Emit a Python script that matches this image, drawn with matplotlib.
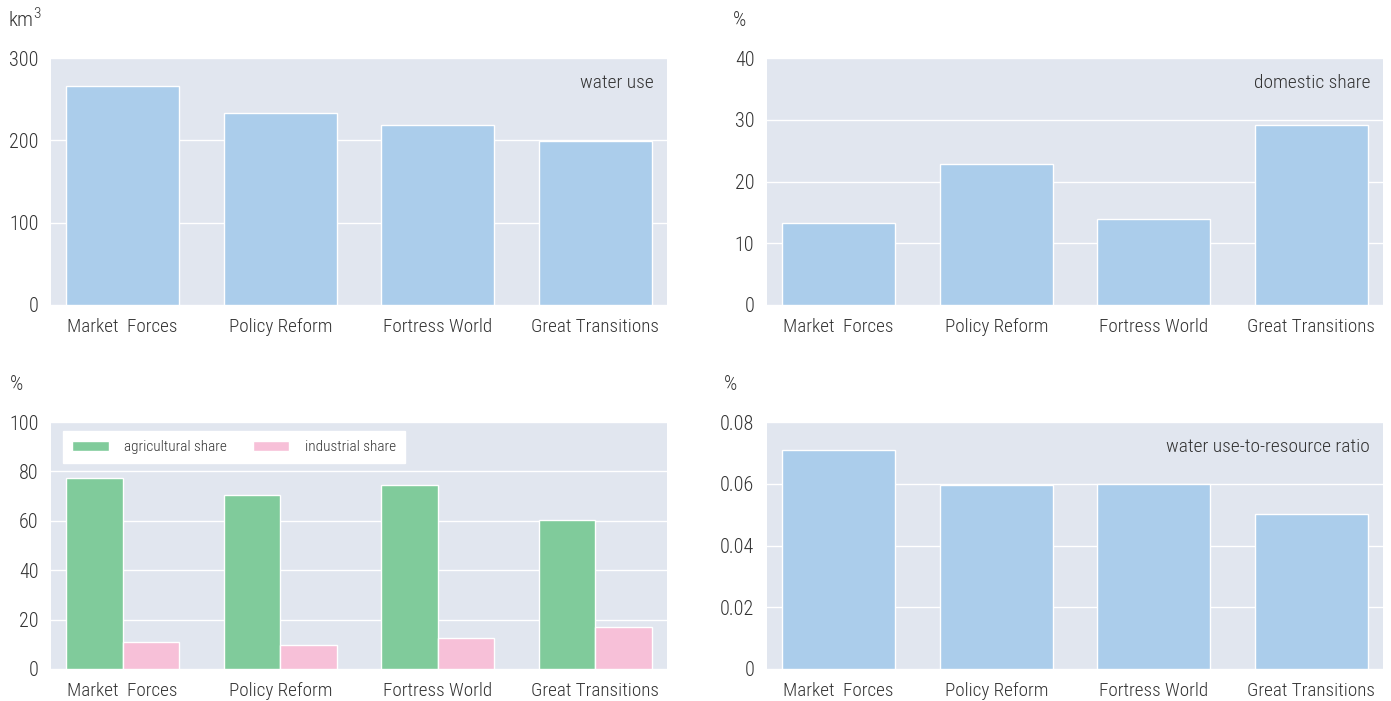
import matplotlib
matplotlib.use("Agg")
import matplotlib.pyplot as plt
import numpy as np
from matplotlib.font_manager import fontManager

names = {f.name for f in fontManager.ttflist}
fam = [f for f in ["Liberation Sans Narrow", "Roboto Condensed", "Roboto", "DejaVu Sans"] if f in names]
plt.rcParams['font.family'] = fam
plt.rcParams['font.weight'] = 'light'

categories = ["Market  Forces", "Policy Reform", "Fortress World", "Great Transitions"]
water_use = [266, 233, 219, 199]
domestic_share = [13.3, 22.8, 13.9, 29.2]
agricultural_share = [77.3, 70.4, 74.5, 60.3]
industrial_share = [10.9, 9.7, 12.6, 17.0]
use_to_resource = [0.0709, 0.0596, 0.0599, 0.0502]

BG = "#e1e6ef"
BLUE = "#abcdeb"
GREEN = "#80cb9b"
PINK = "#f7c0d8"
TXT = "#333333"

fig = plt.figure(figsize=(13.91, 7.01), dpi=100)
W, H = 1391, 701

def make_ax(x0, y0, x1, y1):
    ax = fig.add_axes([x0 / W, 1 - y1 / H, (x1 - x0) / W, (y1 - y0) / H])
    ax.set_facecolor(BG)
    for s in ax.spines.values():
        s.set_visible(False)
    ax.set_axisbelow(True)
    ax.yaxis.grid(True, color="white", linewidth=1)
    ax.tick_params(axis="y", length=0, labelsize=14.5, colors=TXT, pad=9)
    ax.tick_params(axis="x", length=0, labelsize=13.8, colors=TXT, pad=9)
    ax.set_xlim(-0.455, 3.455)
    x = np.arange(len(categories))
    ax.set_xticks(x)
    ax.set_xticklabels(categories)
    return ax, x

TITLE_KW = dict(ha="right", va="center", fontsize=14, color=TXT)

def unit(xp, yp, s):
    fig.text(xp / W, 1 - yp / H, s, fontsize=15, color=TXT, va="center", ha="left")

# top-left
ax, x = make_ax(51, 58, 667, 305)
ax.bar(x, water_use, width=0.72, color=BLUE, edgecolor="white", linewidth=1)
ax.set_ylim(0, 300)
ax.set_yticks([0, 100, 200, 300])
ax.text(0.979, 0.9, "water use", transform=ax.transAxes, **TITLE_KW)
unit(8, 20, "km")
fig.text(33 / W, 1 - 14 / H, "3", fontsize=11, color=TXT, va="center", ha="left")

# top-right
ax, x = make_ax(767, 58, 1383, 305)
ax.bar(x, domestic_share, width=0.72, color=BLUE, edgecolor="white", linewidth=1)
ax.set_ylim(0, 40)
ax.set_yticks([0, 10, 20, 30, 40])
ax.text(0.979, 0.9, "domestic share", transform=ax.transAxes, **TITLE_KW)
unit(733, 20, "%")

# bottom-left
ax, x = make_ax(51, 422, 667, 669)
ax.bar(x - 0.18, agricultural_share, width=0.36, color=GREEN, edgecolor="white", linewidth=1, label="agricultural share")
ax.bar(x + 0.18, industrial_share, width=0.36, color=PINK, edgecolor="white", linewidth=1, label="industrial share")
ax.set_ylim(0, 100)
ax.set_yticks([0, 20, 40, 60, 80, 100])
leg = ax.legend(loc="upper left", bbox_to_anchor=(0.019, 0.964), ncol=2, frameon=True, fancybox=False,
                fontsize=11, handlelength=2.4, handleheight=0.65, columnspacing=1.7, borderpad=0.6,
                handletextpad=1.0, labelcolor=TXT, borderaxespad=0)
leg.get_frame().set_facecolor("white")
leg.get_frame().set_edgecolor("white")
leg.get_frame().set_alpha(1)
unit(10, 384, "%")

# bottom-right
ax, x = make_ax(767, 422, 1383, 669)
ax.bar(x, use_to_resource, width=0.72, color=BLUE, edgecolor="white", linewidth=1)
ax.set_ylim(0, 0.08)
ax.set_yticks([0, 0.02, 0.04, 0.06, 0.08])
ax.set_yticklabels(["0", "0.02", "0.04", "0.06", "0.08"])
ax.text(0.979, 0.9, "water use-to-resource ratio", transform=ax.transAxes, **TITLE_KW)
unit(724, 384, "%")

fig.savefig("out.png", dpi=100)
